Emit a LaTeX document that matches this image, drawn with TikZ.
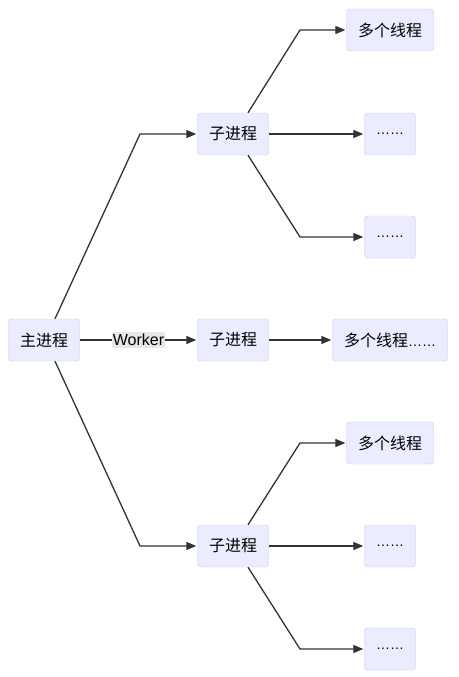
\documentclass[tikz,border=0pt]{standalone}
\usepackage{fontspec}
\setmainfont{Liberation Sans}
\newfontfamily\cjk{Noto Sans CJK SC}
\usepackage[dvipsnames]{xcolor}
\usetikzlibrary{arrows.meta}
\definecolor{boxfill}{HTML}{ECECFF}
\definecolor{boxline}{HTML}{C9C9F0}
\definecolor{linkgray}{HTML}{333333}
\definecolor{labelgray}{HTML}{E8E8E8}

\begin{document}
\begin{tikzpicture}[x=1pt,y=-1pt,->,>={Stealth[length=10pt,width=8pt,inset=0pt]},shorten >=1pt,
  proc node/.style={rectangle,rounded corners=3pt,draw=boxline,fill=boxfill,minimum height=42pt,inner xsep=11.5pt,font=\cjk\fontsize{16}{18}\selectfont},
  dots node/.style={proc node,minimum width=51pt,inner xsep=0pt,font=\fontsize{14}{16}\selectfont},
  link/.style={draw=linkgray,line width=1.3pt}]
    \useasboundingbox[fill=white] (0,0) rectangle (458,677);
                \node[proc node] (1) at (44,340) {主进程};
                \node[proc node] (2) at (233,134) {子进程};
                \node[proc node] (3) at (233,340) {子进程};
                \node[proc node] (4) at (233,546) {子进程};
                \node[proc node] (5) at (390,30) {多个线程};
                \node[dots node] (6) at (390,134) {……};
                \node[dots node] (7) at (390,237) {……};
                \node[proc node] (8) at (390,340) {多个线程{\rmfamily\fontsize{14}{16}\selectfont ……}};
                \node[proc node] (9) at (390,443) {多个线程};
                \node[dots node] (10) at (390,546) {……};
                \node[dots node] (11) at (390,649) {……};

                \draw[link] ([xshift=11pt]1.north) -- (140,134) -- (2);
                \draw[link] (1) -- node[fill=labelgray,inner xsep=1pt,inner ysep=2pt,text=black,font=\fontsize{16}{18}\selectfont] {Worker} (3);
                \draw[link] ([xshift=11pt]1.south) -- (140,546) -- (4);
                \draw[link] ([xshift=15pt]2.north) -- (300,30) -- (5);
                \draw[link] (2) -- (6);
                \draw[link] ([xshift=15pt]2.south) -- (300,237) -- (7);
                \draw[link] (3) -- (8);
                \draw[link] ([xshift=15pt]4.north) -- (300,443) -- (9);
                \draw[link] (4) -- (10);
                \draw[link] ([xshift=15pt]4.south) -- (300,649) -- (11);
            \end{tikzpicture}
\end{document}
